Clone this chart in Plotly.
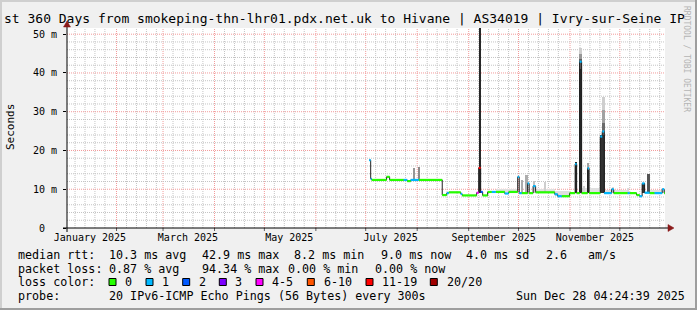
import plotly.graph_objects as go
import pandas as pd

# ---------------- data ----------------
time_start = "2025-01-02 04:24:39"
time_end = "2025-12-28 04:24:39"

# median RTT (ms) samples and their loss class index
median_times = [
    "2025-07-03 02:00", "2025-07-04 00:00", "2025-07-04 14:00", "2025-07-13 14:00",
    "2025-07-15 10:00", "2025-07-23 22:00", "2025-07-26 00:00", "2025-07-28 02:00",
    "2025-08-01 22:00", "2025-08-16 02:00", "2025-08-18 19:00", "2025-08-20 00:00",
    "2025-08-27 05:00", "2025-08-28 02:00", "2025-09-05 19:00", "2025-09-07 00:00",
    "2025-09-08 05:00", "2025-09-09 10:00", "2025-09-12 10:00", "2025-09-14 22:00",
    "2025-09-17 07:00", "2025-09-22 17:00", "2025-09-25 02:00", "2025-09-30 12:00",
    "2025-10-01 10:00", "2025-10-02 22:00", "2025-10-06 12:00", "2025-10-07 10:00",
    "2025-10-09 19:00", "2025-10-11 07:00", "2025-10-22 19:00", "2025-10-24 14:00",
    "2025-10-27 00:00", "2025-10-31 19:00", "2025-11-04 02:00", "2025-11-05 00:00",
    "2025-11-06 19:00", "2025-11-08 00:00", "2025-11-11 14:00", "2025-11-12 12:00",
    "2025-11-19 05:00", "2025-11-20 10:00", "2025-11-21 14:00", "2025-11-26 02:00",
    "2025-11-27 07:00", "2025-12-05 17:00", "2025-12-06 22:00", "2025-12-11 02:00",
    "2025-12-12 22:00", "2025-12-14 10:00", "2025-12-15 22:00", "2025-12-18 22:00",
    "2025-12-21 22:00", "2025-12-26 12:00", "2025-12-27 17:00", "2025-12-28 04:00",
]
median_ms = [
    17.5, 12.7, 12.4, 13.2,
    12.4, 12.4, 12.1, 12.4,
    12.4, 8.5, 9.0, 9.2,
    8.8, 8.4, 9.1, 15.5,
    9.3, 8.4, 9.3, 9.3,
    9.3, 8.9, 9.3, 13.2,
    9.0, 9.0, 11.5, 9.0,
    10.8, 9.2, 8.7, 8.2,
    8.2, 9.0, 16.5, 9.0,
    42.9, 9.0, 15.4, 9.0,
    23.6, 24.9, 9.0, 10.0,
    9.0, 9.0, 9.0, 8.5,
    8.2, 11.5, 9.1, 9.0,
    9.0, 10.0, 9.0, 9.0,
]
median_loss = [
    1, 1, 0, 0,
    0, 1, 0, 1,
    0, 0, 1, 0,
    1, 0, 4, 6,
    2, 0, 0, 1,
    0, 1, 0, 1,
    1, 0, 1, 0,
    1, 0, 1, 1,
    0, 0, 1, 0,
    1, 0, 1, 0,
    1, 1, 1, 1,
    0, 1, 0, 0,
    1, 1, 1, 0,
    1, 1, 0, 0,
]

# smoke (spread of the individual pings): time span, low / high ms, ping density
smoke_start = [
    "2025-09-17 12:00", "2025-10-11 12:00", "2025-10-22 23:00", "2025-11-08 05:00",
    "2025-11-22 02:00", "2025-11-26 07:00", "2025-12-05 07:00", "2025-11-08 19:00",
    "2025-12-19 05:00", "2025-10-16 22:00", "2025-07-29 05:00", "2025-08-01 05:00",
    "2025-09-07 05:00", "2025-10-02 12:00", "2025-10-05 12:00", "2025-10-10 07:00",
    "2025-11-04 00:00", "2025-11-06 14:00", "2025-11-06 14:00", "2025-11-06 14:00",
    "2025-11-06 14:00", "2025-11-11 10:00", "2025-11-11 10:00", "2025-11-19 02:00",
    "2025-11-20 00:00", "2025-11-20 00:00", "2025-11-20 00:00", "2025-12-14 05:00",
    "2025-12-17 12:00",
]
smoke_end = [
    "2025-09-30 02:00", "2025-10-22 23:00", "2025-11-01 00:00", "2025-11-19 02:00",
    "2025-12-05 22:00", "2025-11-27 12:00", "2025-12-06 12:00", "2025-11-10 00:00",
    "2025-12-28 04:00", "2025-10-17 19:00", "2025-07-30 10:00", "2025-08-02 10:00",
    "2025-09-08 02:00", "2025-10-03 10:00", "2025-10-06 10:00", "2025-10-11 05:00",
    "2025-11-05 12:00", "2025-11-07 22:00", "2025-11-07 22:00", "2025-11-07 22:00",
    "2025-11-07 22:00", "2025-11-12 17:00", "2025-11-12 17:00", "2025-11-22 02:00",
    "2025-11-22 02:00", "2025-11-22 02:00", "2025-11-22 02:00", "2025-12-16 05:00",
    "2025-12-19 05:00",
]
smoke_lo = [
    9.3, 9.2, 8.2, 9.0,
    9.0, 9.0, 9.0, 9.0,
    9.0, 9.2, 12.4, 12.4,
    9.0, 9.0, 9.0, 9.0,
    9.0, 9.0, 41.0, 43.5,
    45.0, 9.0, 15.0, 9.0,
    24.0, 27.0, 30.5, 9.0,
    9.0,
]
smoke_hi = [
    10.0, 10.0, 9.6, 10.2,
    9.8, 10.7, 10.3, 10.8,
    9.8, 11.8, 15.5, 15.8,
    52.0, 12.4, 13.7, 12.0,
    17.1, 41.0, 43.5, 45.0,
    46.4, 15.0, 16.7, 24.0,
    27.0, 30.5, 33.9, 11.5,
    13.9,
]
smoke_density = [
    0.12, 0.12, 0.12, 0.12,
    0.12, 0.15, 0.15, 0.18,
    0.12, 0.20, 0.45, 0.50,
    0.95, 0.35, 0.35, 0.25,
    0.95, 0.95, 0.70, 0.45,
    0.20, 0.90, 0.40, 0.90,
    0.65, 0.40, 0.20, 0.90,
    0.75,
]

y_ticks = [0, 10, 20, 30, 40, 50]
y_tick_text = ["0\u00a0\u00a0", "10 m", "20 m", "30 m", "40 m", "50 m"]
x_label_dates = ["2025-01-16", "2025-03-16", "2025-05-16", "2025-07-16", "2025-09-16", "2025-11-16"]
x_label_text = ["January 2025", "March 2025", "May 2025", "July 2025", "September 2025", "November 2025"]

loss_labels = ["0", "1", "2", "3", "4-5", "6-10", "11-19", "20/20"]

title_text = "st 360 Days from smokeping-thn-lhr01.pdx.net.uk to Hivane | AS34019 | Ivry-sur-Seine IP"
legend_rows = [
    [("median rtt:", 16), ("10.3 ms avg", 107.3), ("42.9 ms max", 200), ("8.2 ms min", 292),
     ("9.0 ms now", 379.3), ("4.0 ms sd", 464.3), ("2.6", 543.7), ("am/s", 586.3)],
    [("packet loss:", 16), ("0.87 % avg", 107.3), ("94.34 % max", 200), ("0.00 % min", 286),
     ("0.00 % now", 372.7)],
    [("loss color:", 16)],
    [("probe:", 16), ("20 IPv6-ICMP Echo Pings (56 Bytes) every 300s", 107.3),
     ("Sun Dec 28 04:24:39 2025", 513.7)],
]

# ---------------- styling ----------------
W, H = 697, 310
L, R, T, B = 67, 665, 28, 228
FONT = "DejaVu Sans Mono"
loss_colors = ["#26ff00", "#00b8ff", "#0059ff", "#7e00ff", "#ff00ff", "#ff5500", "#ff0000", "#a10000"]
Y_TOP = 51.6


def px(x):
    return (x - L) / (R - L)


def py(y):
    return (B - y) / (B - T)


fig = go.Figure()

# smoke bars
t0 = pd.to_datetime(smoke_start)
t1 = pd.to_datetime(smoke_end)
order = sorted(range(len(smoke_lo)), key=lambda i: smoke_density[i])
centers, widths, bases, heights, colors = [], [], [], [], []
for i in order:
    centers.append(t0[i] + (t1[i] - t0[i]) / 2)
    widths.append((t1[i] - t0[i]).total_seconds() * 1000)
    bases.append(smoke_lo[i])
    heights.append(smoke_hi[i] - smoke_lo[i])
    g = int(round(250 - smoke_density[i] * 222))
    colors.append(f"rgb({g},{g},{g})")
fig.add_trace(go.Bar(x=centers, y=heights, base=bases, width=widths,
                     marker=dict(color=colors, line=dict(width=0)),
                     hoverinfo="skip"))

# thin median line
fig.add_trace(go.Scatter(x=median_times, y=median_ms, mode="lines",
                         line=dict(color="#202020", width=1, shape="hv"),
                         hoverinfo="skip"))

# loss coloured median segments
mt = list(median_times) + [time_end]
for k, col in enumerate(loss_colors):
    xs, ys = [], []
    for i in range(len(median_ms)):
        if median_loss[i] == k:
            xs += [mt[i], mt[i + 1], None]
            ys += [median_ms[i], median_ms[i], None]
    if xs:
        fig.add_trace(go.Scatter(x=xs, y=ys, mode="lines",
                                 line=dict(color=col, width=2.2),
                                 hoverinfo="skip"))

shapes = []
GRID = "#c4c4c4"
MGRID = "#f29a9a"
DASH = "1px,1px"
# vertical grid
months = pd.date_range("2025-01-01", "2026-01-01", freq="MS")
for m in months:
    for d in (7, 13, 19, 25):
        t = m + pd.Timedelta(days=d - 1)
        if pd.Timestamp(time_start) < t < pd.Timestamp(time_end):
            shapes.append(dict(type="line", xref="x", yref="paper", x0=t, x1=t, y0=0, y1=1,
                               line=dict(color=GRID, width=1, dash=DASH), layer="below"))
for m in months:
    if pd.Timestamp(time_start) < m < pd.Timestamp(time_end):
        shapes.append(dict(type="line", xref="x", yref="paper", x0=m, x1=m, y0=0, y1=1,
                           line=dict(color=MGRID, width=1, dash=DASH), layer="below"))
        shapes.append(dict(type="line", xref="x", yref="paper", x0=m, x1=m, y0=py(228), y1=py(231),
                           line=dict(color="#606060", width=1), layer="above"))
# horizontal grid
for v in range(2, 52, 2):
    if v % 10:
        shapes.append(dict(type="line", xref="paper", yref="y", x0=0, x1=1, y0=v, y1=v,
                           line=dict(color=GRID, width=1, dash=DASH), layer="below"))
for v in y_ticks[1:]:
    shapes.append(dict(type="line", xref="paper", yref="y", x0=0, x1=1, y0=v, y1=v,
                       line=dict(color=MGRID, width=1, dash=DASH), layer="below"))

# axes lines + arrows
shapes.append(dict(type="line", xref="paper", yref="paper", x0=px(63), x1=px(670), y0=py(228), y1=py(228),
                   line=dict(color="black", width=1), layer="above"))
shapes.append(dict(type="line", xref="paper", yref="paper", x0=px(67), x1=px(67), y0=py(232), y1=py(24),
                   line=dict(color="black", width=1), layer="above"))
shapes.append(dict(type="path", xref="paper", yref="paper",
                   path=f"M {px(668)} {py(224.5)} L {px(674)} {py(228)} L {px(668)} {py(231.5)} Z",
                   fillcolor="#8b1a1a", line=dict(color="#8b1a1a", width=0.5), layer="above"))
shapes.append(dict(type="path", xref="paper", yref="paper",
                   path=f"M {px(63.5)} {py(27)} L {px(67)} {py(21)} L {px(70.5)} {py(27)} Z",
                   fillcolor="#8b1a1a", line=dict(color="#8b1a1a", width=0.5), layer="above"))

# image border (3D shade)
shapes.append(dict(type="line", xref="paper", yref="paper", x0=px(0), x1=px(697), y0=py(1), y1=py(1),
                   line=dict(color="#cfcfcf", width=2)))
shapes.append(dict(type="line", xref="paper", yref="paper", x0=px(1), x1=px(1), y0=py(0), y1=py(310),
                   line=dict(color="#cfcfcf", width=2)))
shapes.append(dict(type="line", xref="paper", yref="paper", x0=px(0), x1=px(697), y0=py(309), y1=py(309),
                   line=dict(color="#9e9e9e", width=2)))
shapes.append(dict(type="line", xref="paper", yref="paper", x0=px(696), x1=px(696), y0=py(0), y1=py(310),
                   line=dict(color="#9e9e9e", width=2)))

# legend swatches
swatch_x = [109, 146, 182.7, 219.3, 256, 307.3, 366, 430.3]
label_x = [123.3, 160, 196.7, 233.3, 270, 321.7, 380.3, 445.3]
for k, col in enumerate(loss_colors):
    sx = swatch_x[k]
    shapes.append(dict(type="rect", xref="paper", yref="paper",
                       x0=px(sx), x1=px(sx + 7), y0=py(285.5), y1=py(278.5),
                       fillcolor=col, line=dict(color="black", width=1), layer="above"))

annotations = []
annotations.append(dict(text=title_text, xref="paper", yref="paper", x=px(2), y=py(18.5),
                        xanchor="left", yanchor="middle", showarrow=False,
                        font=dict(family=FONT, size=13, color="black")))
row_y = [255, 268.5, 282, 296]
for r, row in enumerate(legend_rows):
    for txt, x in row:
        annotations.append(dict(text=txt, xref="paper", yref="paper", x=px(x), y=py(row_y[r]),
                                xanchor="left", yanchor="middle", showarrow=False,
                                font=dict(family=FONT, size=11.7, color="black")))
for k, lab in enumerate(loss_labels):
    annotations.append(dict(text=lab, xref="paper", yref="paper", x=px(label_x[k]), y=py(282),
                            xanchor="left", yanchor="middle", showarrow=False,
                            font=dict(family=FONT, size=11.7, color="black")))
annotations.append(dict(text="Seconds", xref="paper", yref="paper", x=px(10), y=py(127),
                        xanchor="center", yanchor="middle", showarrow=False, textangle=-90,
                        font=dict(family=FONT, size=11, color="black")))
annotations.append(dict(text="RRDTOOL / TOBI OETIKER", xref="paper", yref="paper", x=px(687), y=py(59),
                        xanchor="center", yanchor="middle", showarrow=False, textangle=90,
                        font=dict(family=FONT, size=8, color="#b4b4b4")))

fig.update_layout(
    width=W, height=H,
    margin=dict(l=L, r=W - R, t=T, b=H - B, pad=0),
    paper_bgcolor="#f0f0f0", plot_bgcolor="white",
    showlegend=False, barmode="overlay", bargap=0,
    hovermode=False,
    shapes=shapes, annotations=annotations,
    font=dict(family=FONT, size=10, color="black"),
    xaxis=dict(type="date", range=[time_start, time_end], showgrid=False, zeroline=False,
               showline=False, tickmode="array", tickvals=x_label_dates, ticktext=x_label_text,
               ticks="", tickfont=dict(family=FONT, size=10, color="black"), ticklabelstandoff=2,
               fixedrange=True),
    yaxis=dict(range=[0, Y_TOP], showgrid=False, zeroline=False, showline=False,
               tickmode="array", tickvals=y_ticks, ticktext=y_tick_text,
               ticks="outside", ticklen=3, tickcolor="black",
               tickfont=dict(family=FONT, size=10, color="black"), ticklabelstandoff=4,
               fixedrange=True),
)

fig.write_html("out.html")
